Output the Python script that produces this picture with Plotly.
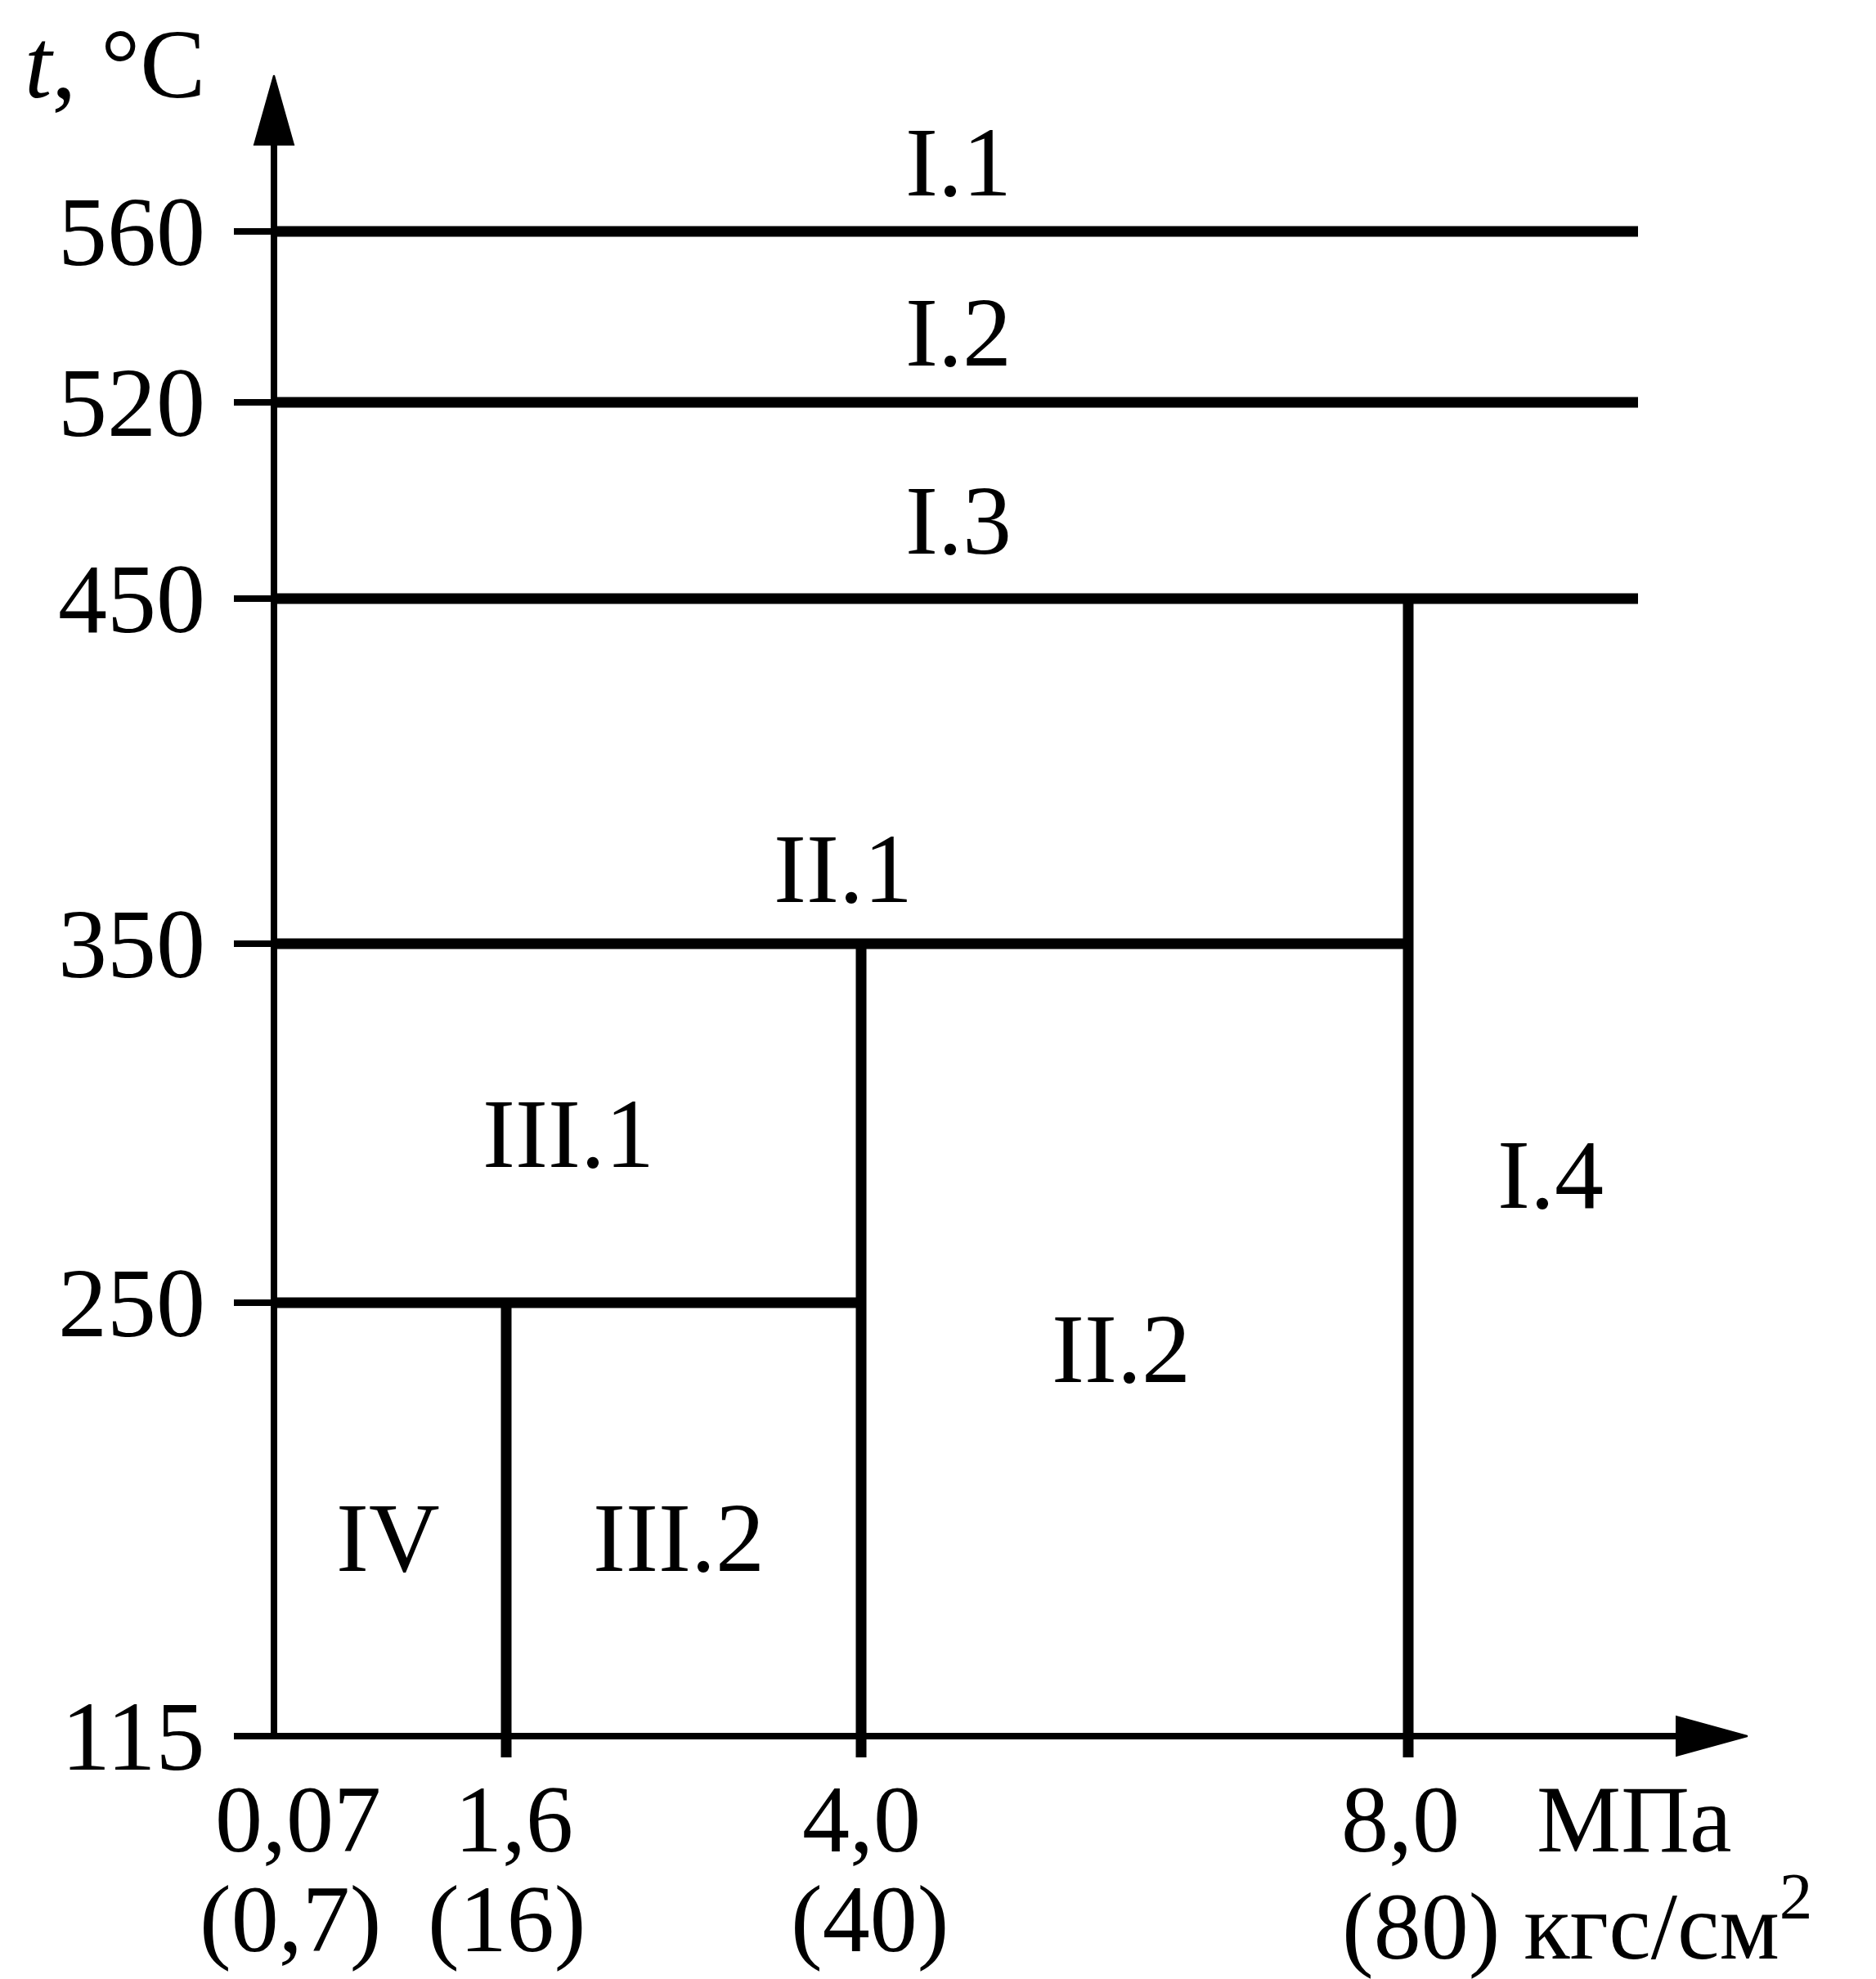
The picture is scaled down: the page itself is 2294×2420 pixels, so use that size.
import numpy as np
import plotly.graph_objects as go

# ---------------- data ----------------
pressure_mpa = [0.07, 1.6, 4.0, 8.0]          # МПа
pressure_mpa_text = ["0,07", "1,6", "4,0", "8,0"]
pressure_kgf_text = ["(0,7)", "(16)", "(40)", "(80)"]
temps = [115, 250, 350, 450, 520, 560]          # °C
temps_text = ["115", "250", "350", "450", "520", "560"]

# horizontal boundaries: temperature, from pressure, to pressure (None = open edge)
h_t = [560, 520, 450, 350, 250]
h_p0 = [0.07, 0.07, 0.07, 0.07, 0.07]
h_p1 = [None, None, None, 8.0, 4.0]
# vertical boundaries: pressure, from temperature, to temperature
v_p = [1.6, 4.0, 8.0]
v_t0 = [115, 115, 115]
v_t1 = [250, 350, 450]

region_names = ["I.1", "I.2", "I.3", "II.1", "III.1", "I.4", "II.2", "IV", "III.2"]

# ---------------- schematic (non-linear) scale ----------------
P_BREAK = [0.07, 1.6, 4.0, 8.0]
P_SCH = [0, 284, 718, 1387]
T_BREAK = [115, 250, 350, 450, 520, 560]
T_SCH = [0, 530, 969, 1391, 1631, 1840]
P_EDGE = 1668       # open right edge of the horizontal lines
X_ARROW = 1802
Y_ARROW = 2031


def px(p):
    return P_EDGE if p is None else float(np.interp(p, P_BREAK, P_SCH))


def ty(t):
    return float(np.interp(t, T_BREAK, T_SCH))


FONT = dict(family="Liberation Serif", size=120, color="black")
FONT_X = dict(family="Liberation Serif", size=116, color="black")

fig = go.Figure()

# boundaries
bx, by = [], []
for t, p0, p1 in zip(h_t, h_p0, h_p1):
    bx += [px(p0), px(p1), None]
    by += [ty(t), ty(t), None]
for p, t0, t1 in zip(v_p, v_t0, v_t1):
    bx += [px(p), px(p), None]
    by += [ty(t0) - 26, ty(t1), None]
fig.add_trace(go.Scatter(x=bx, y=by, mode="lines",
                         line=dict(color="black", width=13),
                         hoverinfo="skip", showlegend=False))

# axes + y ticks
ax, ay = [], []
ax += [px(0.07), px(0.07), None]
ay += [ty(115), Y_ARROW - 85, None]
ax += [px(0.07) - 49, X_ARROW - 87, None]
ay += [ty(115), ty(115), None]
for t in temps:
    ax += [px(0.07) - 49, px(0.07), None]
    ay += [ty(t), ty(t), None]
fig.add_trace(go.Scatter(x=ax, y=ay, mode="lines",
                         line=dict(color="black", width=8),
                         hoverinfo="skip", showlegend=False))

# arrow heads
x0 = px(0.07)
fig.add_trace(go.Scatter(x=[x0, x0 - 24, x0 + 24, x0], y=[Y_ARROW, Y_ARROW - 85, Y_ARROW - 85, Y_ARROW],
                         mode="lines", fill="toself", fillcolor="black",
                         line=dict(color="black", width=2), hoverinfo="skip", showlegend=False))
y0 = ty(115)
fig.add_trace(go.Scatter(x=[X_ARROW, X_ARROW - 87, X_ARROW - 87, X_ARROW], y=[y0, y0 + 24, y0 - 24, y0],
                         mode="lines", fill="toself", fillcolor="black",
                         line=dict(color="black", width=2), hoverinfo="skip", showlegend=False))

ann = []
# y tick labels
for t, lab in zip(temps, temps_text):
    ann.append(dict(x=px(0.07) - 82, y=ty(t), text=lab, xanchor="right", yanchor="middle", font=FONT))
ann.append(dict(x=px(0.07) - 82, y=Y_ARROW + 14, text="<i>t</i>, °C", xanchor="right", yanchor="middle",
                font=FONT))

# x tick labels (two rows)
row1_dx = [29, 9, 0, -10]
row2_dx = [20, 0, 10, -83]
n = len(pressure_mpa)
for i, (p, l1, l2, d1, d2) in enumerate(zip(pressure_mpa, pressure_mpa_text, pressure_kgf_text,
                                             row1_dx, row2_dx)):
    ann.append(dict(x=px(p) + d1, y=-102, text=l1, xanchor="center", yanchor="middle", font=FONT_X))
    if i < n - 1:
        ann.append(dict(x=px(p) + d2, y=-224, text=l2, xanchor="center", yanchor="middle", font=FONT_X))
    else:
        ann.append(dict(x=px(p) + d2, y=-224, text=l2 + " кгс/см<sup>2</sup>", xanchor="left",
                        yanchor="middle", font=FONT_X))
ann.append(dict(x=px(8.0) + 276, y=-102, text="МПа", xanchor="center", yanchor="middle", font=FONT_X))

# region labels
region_x = [837, 837, 837, 696, 360, 1561, 1036, 139, 495]
region_y = [1925, 1717, 1487, 1061, 737, 687, 474, 243, 243]
for name, rx, ry in zip(region_names, region_x, region_y):
    ann.append(dict(x=rx, y=ry, text=name, xanchor="center", yanchor="middle", font=FONT))

for a in ann:
    a.update(xref="x", yref="y", showarrow=False)

# page body adds an 8 px offset: figure is 8 px smaller, ranges shifted accordingly
fig.update_layout(
    width=2286, height=2412,
    margin=dict(l=0, r=0, t=0, b=0),
    paper_bgcolor="white", plot_bgcolor="white",
    xaxis=dict(range=[-327, 1959], visible=False, fixedrange=True),
    yaxis=dict(range=[-297, 2115], visible=False, fixedrange=True),
    annotations=ann,
    showlegend=False,
)

fig.write_html("out.html")
